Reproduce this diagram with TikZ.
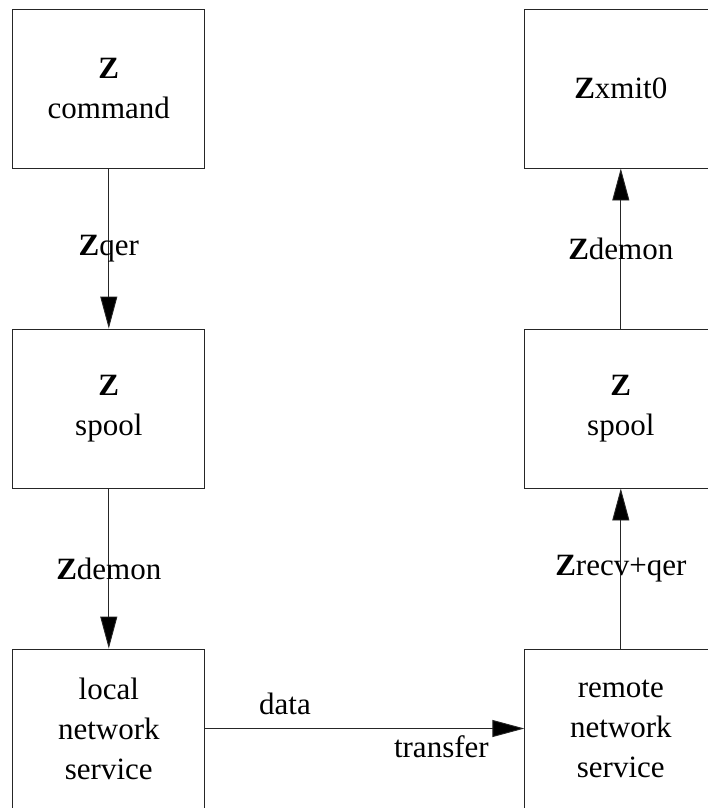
\documentclass[tikz,border=0pt]{standalone}
\usepackage{fontspec}
\setmainfont{Liberation Serif}
\usetikzlibrary{arrows.meta}
\begin{document}
\begin{tikzpicture}[x=1pt,y=-1pt,
  box/.style={draw=black!85,line width=0.9pt,minimum width=192pt,minimum height=159pt,
    align=center,inner sep=0pt,font=\fontsize{31}{40}\selectfont},
  lbl/.style={font=\fontsize{31}{38}\selectfont,inner sep=3.33pt},
  conn/.style={draw=black!85,line width=0.9pt,-{Triangle[length=32pt,width=17pt,fill=black]}}]
\useasboundingbox (0,0) rectangle (708,808);
\clip (0,0) rectangle (708,808);
\node[box] (cmd) at (108.8,88.5) {\textbf{Z}\\command};
\node[box] (lspool) at (108.8,408.5) {\textbf{Z}\\spool};
\node[box] (lnet) at (108.8,728.5) {local\\network\\service};
\node[box] (xmit) at (620.8,88.5) {\textbf{Z}xmit0};
\node[box] (rspool) at (620.8,408.5) {\textbf{Z}\\spool};
\node[box] (rnet) at (620.8,728.5) {remote\\network\\service};
\draw[conn] (cmd) -- node[lbl,midway] {\textbf{Z}qer} (lspool);
\draw[conn] (lspool) -- node[lbl,midway] {\textbf{Z}demon} (lnet);
\draw[conn] (rspool) -- node[lbl,midway] {\textbf{Z}demon} (xmit);
\draw[conn] (rnet) -- node[lbl,midway] {\textbf{Z}recv+qer} (rspool);
\draw[conn] (lnet.east) -- node[lbl,pos=0.25,above=10pt] {data}
  node[lbl,pos=0.74,below=3pt] {transfer} (rnet.west);
\end{tikzpicture}
\end{document}
